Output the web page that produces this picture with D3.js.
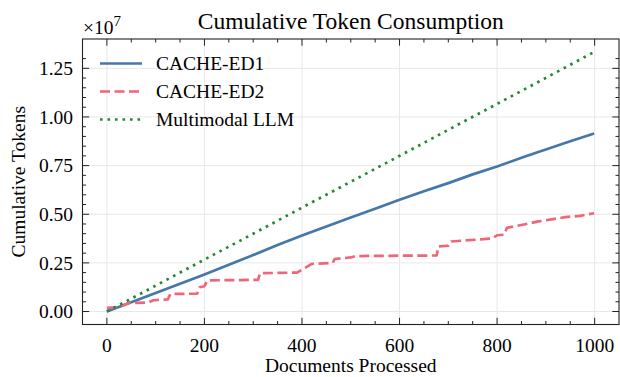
<!DOCTYPE html>
<html>
<head>
<meta charset="utf-8">
<script src="https://cdn.jsdelivr.net/npm/d3@7"></script>
<style>
  html, body { margin: 0; padding: 0; background: #fff; }
  svg { display: block; }
  text { font-family: "Liberation Serif", "DejaVu Serif", serif; fill: #000; }
</style>
</head>
<body>
<div id="chart"></div>
<script>
// ---- data (token values in units of 1e7) ----
const title = "Cumulative Token Consumption";
const xLabel = "Documents Processed";
const yLabel = "Cumulative Tokens";
const seriesNames = ["CACHE-ED1", "CACHE-ED2", "Multimodal LLM"];
const seriesColors = ["#4477AA", "#EE6677", "#228833"];

const ed1Docs = [0, 50, 100, 150, 200, 250, 300, 350, 400, 450, 500, 550, 600, 650, 700, 750, 800, 850, 886, 900, 950, 999];
const ed1Vals = [0, 0.048, 0.095, 0.143, 0.19, 0.24, 0.29, 0.342, 0.391, 0.437, 0.483, 0.528, 0.574, 0.618, 0.66, 0.705, 0.745, 0.79, 0.821, 0.833, 0.875, 0.915];

const ed2Docs = [0, 20, 30, 45, 85, 95, 125, 130, 185, 190, 200, 206, 310, 314, 390, 400, 420, 463, 467, 500, 510, 600, 676, 680, 700, 706, 790, 800, 815, 820, 860, 885, 915, 940, 970, 999];
const ed2Vals = [0.019, 0.022, 0.028, 0.044, 0.046, 0.058, 0.062, 0.09, 0.092, 0.125, 0.13, 0.16, 0.163, 0.197, 0.2, 0.215, 0.245, 0.25, 0.27, 0.278, 0.285, 0.287, 0.288, 0.335, 0.338, 0.36, 0.375, 0.392, 0.395, 0.43, 0.45, 0.463, 0.475, 0.485, 0.492, 0.505];

const llmDocs = [0, 100, 200, 300, 400, 500, 600, 700, 800, 900, 999];
const llmVals = [0, 0.133, 0.267, 0.400, 0.534, 0.667, 0.800, 0.934, 1.067, 1.201, 1.334];

const xTicks = [0, 200, 400, 600, 800, 1000];
const yTicks = [0, 0.25, 0.5, 0.75, 1.0, 1.25];
const exponentLabel = "7";

// ---- layout ----
const W = 620, H = 377;
const plot = { left: 82.5, right: 619, top: 39, bottom: 324.5 };

const svg = d3.select("#chart").append("svg").attr("width", W).attr("height", H);

const x = d3.scaleLinear().domain([-50, 1049.95]).range([plot.left, plot.right]);
const y = d3.scaleLinear().domain([-0.0667, 1.4007]).range([plot.bottom, plot.top]);

// grid
const grid = svg.append("g");
grid.selectAll("line.gx").data(xTicks).enter().append("line")
  .attr("x1", d => x(d)).attr("x2", d => x(d))
  .attr("y1", plot.top).attr("y2", plot.bottom)
  .attr("stroke", "#e8e8e8").attr("stroke-width", 1);
grid.selectAll("line.gy").data(yTicks).enter().append("line")
  .attr("x1", plot.left).attr("x2", plot.right)
  .attr("y1", d => y(d)).attr("y2", d => y(d))
  .attr("stroke", "#e8e8e8").attr("stroke-width", 1);

// series
const series = [
  { docs: ed1Docs, vals: ed1Vals, dash: null, width: 2.7 },
  { docs: ed2Docs, vals: ed2Vals, dash: "10 4.5", width: 2.7 },
  { docs: llmDocs, vals: llmVals, dash: "2.6 4.9", width: 2.7 }
];
const line = d3.line().x(d => x(d[0])).y(d => y(d[1]));
series.forEach((s, i) => {
  const pts = s.docs.map((d, j) => [d, s.vals[j]]);
  svg.append("path").datum(pts)
    .attr("d", line)
    .attr("fill", "none")
    .attr("stroke", seriesColors[i])
    .attr("stroke-width", s.width)
    .attr("stroke-dasharray", s.dash)
    .attr("stroke-linejoin", "round");
});

// axes (ticks inward, on all sides)
const majorLen = 6.7, minorLen = 3.5;
const xMinor = d3.range(0, 1001, 50).filter(v => !xTicks.includes(v));
const yMinor = d3.range(0, 27).map(k => +(k * 0.05).toFixed(2)).filter(v => !yTicks.includes(v) && v <= 1.40);
const tickColor = "#222";

function xAxisTicks(g, vals, len, atBottom) {
  g.selectAll(null).data(vals).enter().append("line")
    .attr("x1", d => x(d)).attr("x2", d => x(d))
    .attr("y1", atBottom ? plot.bottom : plot.top)
    .attr("y2", atBottom ? plot.bottom - len : plot.top + len)
    .attr("stroke", tickColor).attr("stroke-width", 1);
}
function yAxisTicks(g, vals, len, atLeft) {
  g.selectAll(null).data(vals).enter().append("line")
    .attr("y1", d => y(d)).attr("y2", d => y(d))
    .attr("x1", atLeft ? plot.left : plot.right)
    .attr("x2", atLeft ? plot.left + len : plot.right - len)
    .attr("stroke", tickColor).attr("stroke-width", 1);
}
const axes = svg.append("g");
xAxisTicks(axes, xTicks, majorLen, true);
xAxisTicks(axes, xMinor, minorLen, true);
xAxisTicks(axes, xTicks, majorLen, false);
xAxisTicks(axes, xMinor, minorLen, false);
yAxisTicks(axes, yTicks, majorLen, true);
yAxisTicks(axes, yMinor, minorLen, true);
yAxisTicks(axes, yTicks, majorLen, false);
yAxisTicks(axes, yMinor, minorLen, false);

axes.append("rect")
  .attr("x", plot.left).attr("y", plot.top)
  .attr("width", plot.right - plot.left).attr("height", plot.bottom - plot.top)
  .attr("fill", "none").attr("stroke", tickColor).attr("stroke-width", 1.1);

// tick labels
const fs = 19.5;
svg.append("g").selectAll("text").data(xTicks).enter().append("text")
  .attr("x", d => x(d)).attr("y", 352)
  .attr("text-anchor", "middle").attr("font-size", fs)
  .text(d => d3.format("d")(d));
svg.append("g").selectAll("text").data(yTicks).enter().append("text")
  .attr("x", 73).attr("y", d => y(d)).attr("dy", "0.34em")
  .attr("text-anchor", "end").attr("font-size", fs)
  .text(d => d3.format(".2f")(d));

// offset text ×10^7
const off = svg.append("text").attr("x", 83).attr("y", 34).attr("font-size", fs);
off.append("tspan").text("\u00d710");
off.append("tspan").attr("dy", -8).attr("font-size", 15).text(exponentLabel);

// axis labels & title
svg.append("text").attr("x", (plot.left + plot.right) / 2).attr("y", 372)
  .attr("text-anchor", "middle").attr("font-size", fs).text(xLabel);
svg.append("text")
  .attr("transform", `translate(25,${(plot.top + plot.bottom) / 2}) rotate(-90)`)
  .attr("text-anchor", "middle").attr("font-size", fs).text(yLabel);
svg.append("text").attr("x", (plot.left + plot.right) / 2).attr("y", 29)
  .attr("text-anchor", "middle").attr("font-size", 23.5).text(title);

// legend
const legY = [63.5, 91.5, 119.5];
const leg = svg.append("g");
seriesNames.forEach((name, i) => {
  leg.append("line")
    .attr("x1", 100).attr("x2", 142).attr("y1", legY[i]).attr("y2", legY[i])
    .attr("stroke", seriesColors[i]).attr("stroke-width", series[i].width)
    .attr("stroke-dasharray", series[i].dash);
  leg.append("text").attr("x", 156).attr("y", legY[i]).attr("dy", "0.34em")
    .attr("font-size", fs).text(name);
});
</script>
</body>
</html>
